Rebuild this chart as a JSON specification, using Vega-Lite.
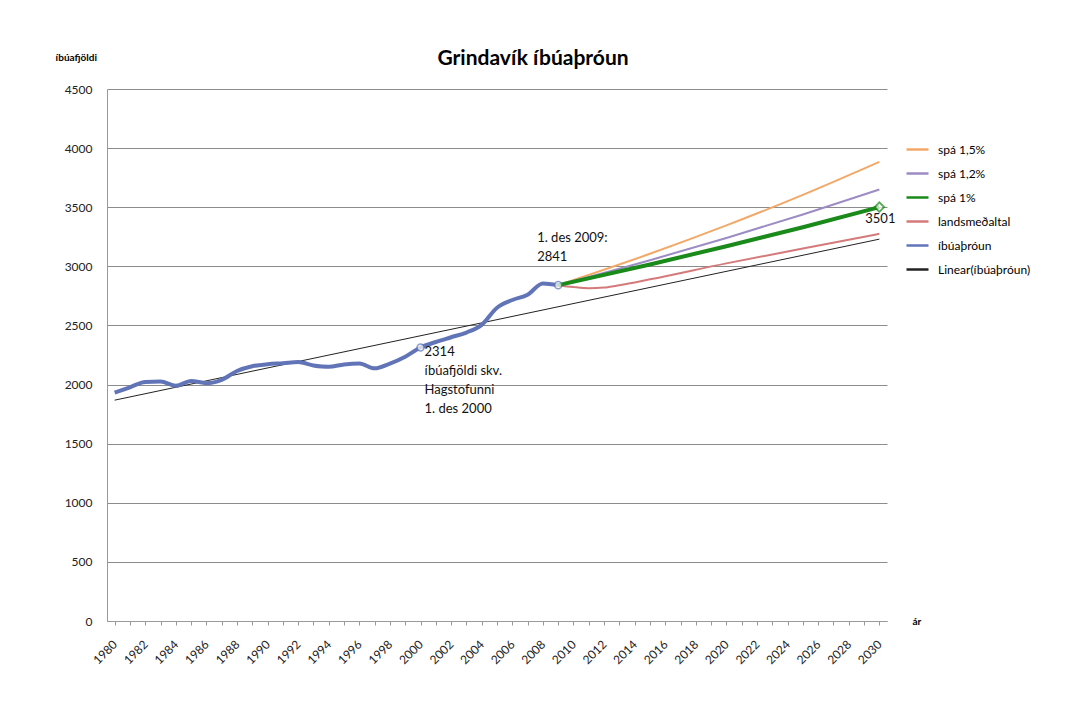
{
  "$schema": "https://vega.github.io/schema/vega-lite/v6.json",
  "width": 780,
  "height": 532,
  "autosize": {"type": "none"},
  "padding": {"left": 107, "top": 89, "right": 195, "bottom": 94},
  "background": "white",
  "config": {"font": "Lato", "view": {"stroke": null}},
  "title": {"text": "Grindavík íbúaþróun", "fontSize": 21, "fontWeight": "bold", "color": "#000000", "anchor": "middle", "dx": 36, "offset": -17},
  "datasets": {
    "series": [
      {"series": "íbúaþróun", "year": 1980, "value": 1931},
      {"series": "íbúaþróun", "year": 1981, "value": 1977},
      {"series": "íbúaþróun", "year": 1982, "value": 2022},
      {"series": "íbúaþróun", "year": 1983, "value": 2025},
      {"series": "íbúaþróun", "year": 1984, "value": 1990},
      {"series": "íbúaþróun", "year": 1985, "value": 2030},
      {"series": "íbúaþróun", "year": 1986, "value": 2012},
      {"series": "íbúaþróun", "year": 1987, "value": 2040},
      {"series": "íbúaþróun", "year": 1988, "value": 2115},
      {"series": "íbúaþróun", "year": 1989, "value": 2155},
      {"series": "íbúaþróun", "year": 1990, "value": 2172},
      {"series": "íbúaþróun", "year": 1991, "value": 2180},
      {"series": "íbúaþróun", "year": 1992, "value": 2190},
      {"series": "íbúaþróun", "year": 1993, "value": 2162},
      {"series": "íbúaþróun", "year": 1994, "value": 2150},
      {"series": "íbúaþróun", "year": 1995, "value": 2170},
      {"series": "íbúaþróun", "year": 1996, "value": 2178},
      {"series": "íbúaþróun", "year": 1997, "value": 2137},
      {"series": "íbúaþróun", "year": 1998, "value": 2178},
      {"series": "íbúaþróun", "year": 1999, "value": 2236},
      {"series": "íbúaþróun", "year": 2000, "value": 2314},
      {"series": "íbúaþróun", "year": 2001, "value": 2360},
      {"series": "íbúaþróun", "year": 2002, "value": 2400},
      {"series": "íbúaþróun", "year": 2003, "value": 2440},
      {"series": "íbúaþróun", "year": 2004, "value": 2505},
      {"series": "íbúaþróun", "year": 2005, "value": 2650},
      {"series": "íbúaþróun", "year": 2006, "value": 2715},
      {"series": "íbúaþróun", "year": 2007, "value": 2760},
      {"series": "íbúaþróun", "year": 2008, "value": 2855},
      {"series": "íbúaþróun", "year": 2009, "value": 2841},
      {"series": "Linear(íbúaþróun)", "year": 1980, "value": 1868},
      {"series": "Linear(íbúaþróun)", "year": 2030, "value": 3230},
      {"series": "spá 1,5%", "year": 2009, "value": 2841},
      {"series": "spá 1,5%", "year": 2015, "value": 3106},
      {"series": "spá 1,5%", "year": 2020, "value": 3346},
      {"series": "spá 1,5%", "year": 2025, "value": 3605},
      {"series": "spá 1,5%", "year": 2030, "value": 3884},
      {"series": "spá 1,2%", "year": 2009, "value": 2841},
      {"series": "spá 1,2%", "year": 2015, "value": 3052},
      {"series": "spá 1,2%", "year": 2020, "value": 3240},
      {"series": "spá 1,2%", "year": 2025, "value": 3439},
      {"series": "spá 1,2%", "year": 2030, "value": 3650},
      {"series": "spá 1%", "year": 2009, "value": 2841},
      {"series": "spá 1%", "year": 2015, "value": 3016},
      {"series": "spá 1%", "year": 2020, "value": 3170},
      {"series": "spá 1%", "year": 2025, "value": 3331},
      {"series": "spá 1%", "year": 2030, "value": 3501},
      {"series": "landsmeðaltal", "year": 2009, "value": 2841},
      {"series": "landsmeðaltal", "year": 2010, "value": 2825},
      {"series": "landsmeðaltal", "year": 2011, "value": 2815},
      {"series": "landsmeðaltal", "year": 2012, "value": 2820},
      {"series": "landsmeðaltal", "year": 2013, "value": 2840},
      {"series": "landsmeðaltal", "year": 2015, "value": 2890},
      {"series": "landsmeðaltal", "year": 2020, "value": 3025},
      {"series": "landsmeðaltal", "year": 2025, "value": 3150},
      {"series": "landsmeðaltal", "year": 2030, "value": 3275}
    ],
    "markers": [
      {"year": 2000, "value": 2314, "kind": "circle"},
      {"year": 2009, "value": 2841, "kind": "circle"},
      {"year": 2030, "value": 3501, "kind": "diamond"}
    ],
    "notes": [
      {"id": "a", "year": 2000, "value": 2314, "text": "2314\níbúafjöldi skv.\nHagstofunni\n1. des 2000"},
      {"id": "b", "year": 2009, "value": 2841, "text": "1. des 2009:\n2841"},
      {"id": "c", "year": 2030, "value": 3501, "text": "3501"}
    ]
  },
  "encoding": {
    "x": {
      "field": "year", "type": "quantitative",
      "scale": {"domain": [1979.5, 2030.5], "nice": false, "zero": false},
      "axis": {
        "title": "ár", "titleX": 805, "titleY": 0, "titleAlign": "left", "titleBaseline": "middle",
        "titleFontSize": 10, "titleFontWeight": "bold", "titleColor": "#000",
        "values": [1980,1981,1982,1983,1984,1985,1986,1987,1988,1989,1990,1991,1992,1993,1994,1995,1996,1997,1998,1999,2000,2001,2002,2003,2004,2005,2006,2007,2008,2009,2010,2011,2012,2013,2014,2015,2016,2017,2018,2019,2020,2021,2022,2023,2024,2025,2026,2027,2028,2029,2030],
        "labelExpr": "datum.value % 2 == 0 ? datum.value + '' : ''",
        "labelAngle": -45, "labelAlign": "right", "labelBaseline": "middle",
        "labelFontSize": 12, "labelColor": "#222", "labelPadding": 17,
        "labelOverlap": false, "labelFlush": false,
        "grid": false, "domainColor": "#999", "tickColor": "#999", "tickSize": 4
      }
    },
    "y": {
      "field": "value", "type": "quantitative",
      "scale": {"domain": [0, 4500], "nice": false},
      "axis": {
        "title": "íbúafjöldi", "titleAngle": 0, "titleX": -52, "titleY": -32,
        "titleAlign": "left", "titleBaseline": "middle", "titleFontSize": 10,
        "titleFontWeight": "bold", "titleColor": "#000",
        "values": [0, 500, 1000, 1500, 2000, 2500, 3000, 3500, 4000, 4500],
        "format": "d",
        "labelFontSize": 12, "labelColor": "#222", "labelPadding": 15,
        "ticks": false, "grid": true, "gridColor": "#8c8c8c", "gridWidth": 1,
        "domainColor": "#999"
      }
    },
    "color": {
      "field": "series", "type": "nominal",
      "scale": {
        "domain": ["spá 1,5%", "spá 1,2%", "spá 1%", "landsmeðaltal", "íbúaþróun", "Linear(íbúaþróun)"],
        "range": ["#f2a868", "#9c8cc4", "#1a8a1a", "#d47a7a", "#6274b8", "#222222"]
      },
      "legend": {
        "orient": "none", "legendX": 798, "legendY": 48, "title": null,
        "symbolType": "stroke", "symbolSize": 484, "symbolStrokeWidth": 2.5,
        "labelFontSize": 12, "labelColor": "#000", "rowPadding": 5, "labelOffset": 8
      }
    }
  },
  "layer": [
    {
      "data": {"name": "series"},
      "transform": [{"filter": "datum.series == 'Linear(íbúaþróun)'"}],
      "mark": {"type": "line", "strokeWidth": 1}
    },
    {
      "data": {"name": "series"},
      "transform": [{"filter": "datum.series == 'spá 1,5%' || datum.series == 'spá 1,2%' || datum.series == 'landsmeðaltal'"}],
      "mark": {"type": "line", "interpolate": "monotone", "strokeWidth": 2}
    },
    {
      "data": {"name": "series"},
      "transform": [{"filter": "datum.series == 'spá 1%' || datum.series == 'íbúaþróun'"}],
      "mark": {"type": "line", "interpolate": "monotone", "strokeWidth": 4}
    },
    {
      "data": {"name": "markers"},
      "transform": [{"filter": "datum.kind == 'circle'"}],
      "mark": {"type": "point", "shape": "circle", "filled": true, "fill": "white", "stroke": "#6274b8", "strokeWidth": 1.5, "size": 50},
      "encoding": {"color": {"value": "white"}}
    },
    {
      "data": {"name": "markers"},
      "transform": [{"filter": "datum.kind == 'diamond'"}],
      "mark": {"type": "point", "shape": "diamond", "filled": true, "fill": "white", "stroke": "#1a8a1a", "strokeWidth": 2, "size": 90},
      "encoding": {"color": {"value": "white"}}
    },
    {
      "data": {"name": "notes"},
      "transform": [{"filter": "datum.id == 'a'"}],
      "mark": {"type": "text", "align": "left", "baseline": "top", "dx": 4, "dy": -1, "fontSize": 13, "lineHeight": 19, "lineBreak": "\n"},
      "encoding": {"text": {"field": "text", "type": "nominal"}, "color": {"value": "#111"}}
    },
    {
      "data": {"name": "notes"},
      "transform": [{"filter": "datum.id == 'b'"}],
      "mark": {"type": "text", "align": "left", "baseline": "bottom", "dx": -21, "dy": -40, "fontSize": 13, "lineHeight": 19, "lineBreak": "\n"},
      "encoding": {"text": {"field": "text", "type": "nominal"}, "color": {"value": "#111"}}
    },
    {
      "data": {"name": "notes"},
      "transform": [{"filter": "datum.id == 'c'"}],
      "mark": {"type": "text", "align": "center", "baseline": "top", "dx": 1, "dy": 6, "fontSize": 13},
      "encoding": {"text": {"field": "text", "type": "nominal"}, "color": {"value": "#111"}}
    }
  ]
}
